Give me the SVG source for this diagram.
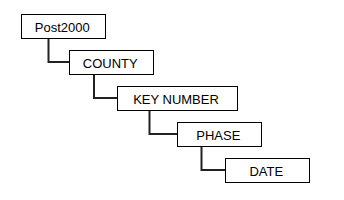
<svg xmlns="http://www.w3.org/2000/svg" width="344" height="200" viewBox="0 0 344 200">
<style>
.box{fill:#fff;stroke:#000;stroke-width:1}
.lbl{font-family:"Liberation Sans",Arial,sans-serif;font-size:13px;fill:#000;text-anchor:middle}
.con{fill:none;stroke:#222;stroke-width:2}
</style>
<rect width="344" height="200" fill="#fff"/>
<g id="connectors">
<path class="con" d="M48.5 38V62H69"/>
<path class="con" d="M94 74V98H117"/>
<path class="con" d="M149.5 110V134H177"/>
<path class="con" d="M201.5 146V170H225"/>
</g>
<g id="post2000"><rect class="box" x="21.5" y="14.5" width="84" height="24"/><text class="lbl" x="62.3" y="32">Post2000</text></g>
<g id="county"><rect class="box" x="69.5" y="50.5" width="84" height="24"/><text class="lbl" x="110.3" y="68">COUNTY</text></g>
<g id="keynumber"><rect class="box" x="117.5" y="86.5" width="120" height="24"/><text class="lbl" x="176" y="104">KEY NUMBER</text></g>
<g id="phase"><rect class="box" x="177.5" y="122.5" width="84" height="24"/><text class="lbl" x="218.3" y="140">PHASE</text></g>
<g id="date"><rect class="box" x="225.5" y="158.5" width="84" height="24"/><text class="lbl" x="266.3" y="176">DATE</text></g>
</svg>
